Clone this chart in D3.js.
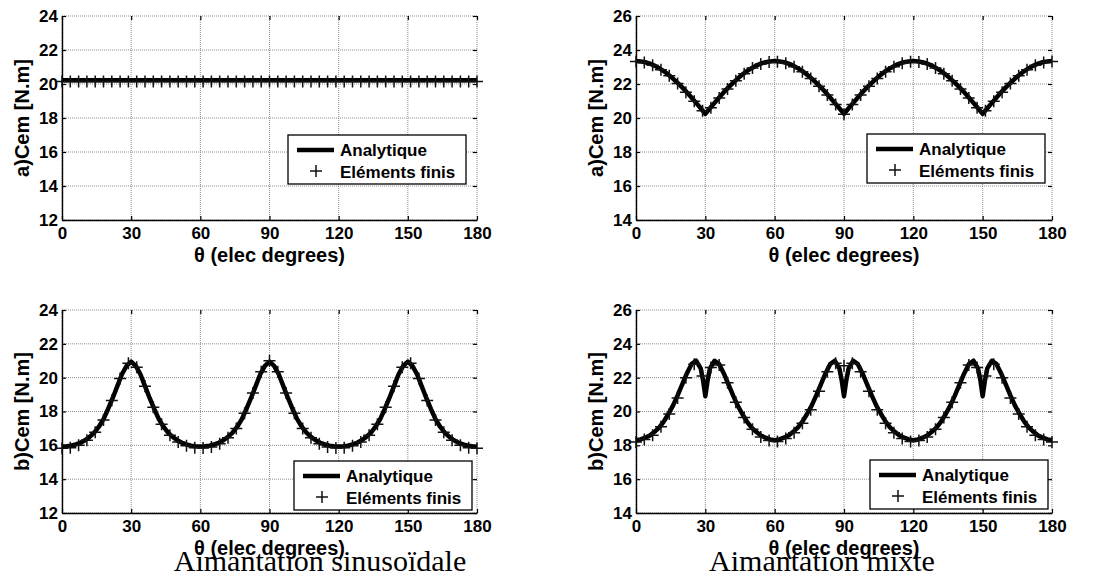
<!DOCTYPE html>
<html><head><meta charset="utf-8">
<script src="https://cdn.jsdelivr.net/npm/d3@7/dist/d3.min.js"></script>
<style>body{margin:0;background:#fff}svg{display:block}</style></head>
<body><svg id="c" width="1097" height="575"></svg>
<script>
// ---------- DATA ----------
const xTicks = [0, 30, 60, 90, 120, 150, 180];
const yTicksSinus = [12, 14, 16, 18, 20, 22, 24];
const yTicksMixte = [14, 16, 18, 20, 22, 24, 26];
const legendLabels = ["Analytique", "Eléments finis"];
const xTitle = "θ (elec degrees)";
const yTitles = ["a)Cem [N.m]", "a)Cem [N.m]", "b)Cem [N.m]", "b)Cem [N.m]"];
const captions = ["Aimantation sinusoïdale", "Aimantation mixte"];

// analytic theta grid (2 degree step)
const thetaA = [0,2,4,6,8,10,12,14,16,18,20,22,24,26,28,30,32,34,36,38,40,42,44,46,48,50,52,54,56,58,60,62,64,66,68,70,72,74,76,78,80,82,84,86,88,90,92,94,96,98,100,102,104,106,108,110,112,114,116,118,120,122,124,126,128,130,132,134,136,138,140,142,144,146,148,150,152,154,156,158,160,162,164,166,168,170,172,174,176,178,180];
// analytic theta grid for the mixte b) curve (denser at the notches)
const thetaBR = [0,2,4,6,8,10,12,14,16,18,20,22,24,26,28,29,30,31,32,34,36,38,40,42,44,46,48,50,52,54,56,58,60,62,64,66,68,70,72,74,76,78,80,82,84,86,88,89,90,91,92,94,96,98,100,102,104,106,108,110,112,114,116,118,120,122,124,126,128,130,132,134,136,138,140,142,144,146,148,149,150,151,152,154,156,158,160,162,164,166,168,170,172,174,176,178,180];
// finite element sample angles
const thetaFE = [0,3.6,7.2,10.8,14.4,18,21.6,25.2,28.8,32.4,36,39.6,43.2,46.8,50.4,54,57.6,61.2,64.8,68.4,72,75.6,79.2,82.8,86.4,90,93.6,97.2,100.8,104.4,108,111.6,115.2,118.8,122.4,126,129.6,133.2,136.8,140.4,144,147.6,151.2,154.8,158.4,162,165.6,169.2,172.8,176.4,180];

// a) sinusoidal
const thetaTL = [0, 180];
const anaTL = [20.22, 20.22];
const feTL = [20.15,20.15,20.15,20.15,20.15,20.15,20.15,20.15,20.15,20.15,20.15,20.15,20.15,20.15,20.15,20.15,20.15,20.15,20.15,20.15,20.15,20.15,20.15,20.15,20.15,20.15,20.15,20.15,20.15,20.15,20.15,20.15,20.15,20.15,20.15,20.15,20.15,20.15,20.15,20.15,20.15,20.15,20.15,20.15,20.15,20.15,20.15,20.15,20.15,20.15,20.15];

// a) mixte
const anaTR = [23.35,23.33,23.28,23.20,23.08,22.93,22.76,22.55,22.32,22.07,21.80,21.51,21.21,20.89,20.57,20.25,20.57,20.89,21.21,21.51,21.80,22.07,22.32,22.55,22.76,22.93,23.08,23.20,23.28,23.33,
23.35,23.33,23.28,23.20,23.08,22.93,22.76,22.55,22.32,22.07,21.80,21.51,21.21,20.89,20.57,20.25,20.57,20.89,21.21,21.51,21.80,22.07,22.32,22.55,22.76,22.93,23.08,23.20,23.28,23.33,
23.35,23.33,23.28,23.20,23.08,22.93,22.76,22.55,22.32,22.07,21.80,21.51,21.21,20.89,20.57,20.25,20.57,20.89,21.21,21.51,21.80,22.07,22.32,22.55,22.76,22.93,23.08,23.20,23.28,23.33,23.35];
const feTR = [23.32,23.27,23.10,22.84,22.48,22.03,21.52,20.98,20.42,20.60,21.17,21.70,22.19,22.60,22.94,23.17,23.30,23.31,23.22,23.02,22.72,22.33,21.87,21.35,20.80,20.22,
20.80,21.35,21.87,22.33,22.72,23.02,23.22,23.31,23.30,23.17,22.94,22.60,22.19,21.70,21.17,20.60,20.42,20.98,21.52,22.03,22.48,22.84,23.10,23.27,23.32];

// b) sinusoidal
const anaBL = [15.93,15.95,15.98,16.05,16.15,16.30,16.50,16.75,17.10,17.55,18.15,18.80,19.50,20.20,20.70,20.95,20.70,20.20,19.50,18.80,18.15,17.55,17.10,16.75,16.50,16.30,16.15,16.05,15.98,15.95,
15.93,15.95,15.98,16.05,16.15,16.30,16.50,16.75,17.10,17.55,18.15,18.80,19.50,20.20,20.70,20.95,20.70,20.20,19.50,18.80,18.15,17.55,17.10,16.75,16.50,16.30,16.15,16.05,15.98,15.95,
15.93,15.95,15.98,16.05,16.15,16.30,16.50,16.75,17.10,17.55,18.15,18.80,19.50,20.20,20.70,20.95,20.70,20.20,19.50,18.80,18.15,17.55,17.10,16.75,16.50,16.30,16.15,16.05,15.98,15.95,15.93];
const feBL = [15.83,15.86,16.00,16.30,16.78,17.50,18.65,19.95,20.85,20.62,19.50,18.25,17.25,16.60,16.20,15.97,15.86,15.84,15.90,16.10,16.45,17.00,17.90,19.10,20.35,21.00,
20.35,19.10,17.90,17.00,16.45,16.10,15.90,15.84,15.86,15.97,16.20,16.60,17.25,18.25,19.50,20.62,20.85,19.95,18.65,17.50,16.78,16.30,16.00,15.86,15.83];

// b) mixte
const anaBR = [18.30,18.35,18.45,18.58,18.80,19.05,19.40,19.85,20.35,20.95,21.60,22.25,22.80,23.00,22.55,21.85,20.90,21.85,22.55,23.00,22.80,22.25,21.60,20.95,20.35,19.85,19.40,19.05,18.80,18.58,18.45,18.35,
18.30,18.35,18.45,18.58,18.80,19.05,19.40,19.85,20.35,20.95,21.60,22.25,22.80,23.00,22.55,21.85,20.90,21.85,22.55,23.00,22.80,22.25,21.60,20.95,20.35,19.85,19.40,19.05,18.80,18.58,18.45,18.35,
18.30,18.35,18.45,18.58,18.80,19.05,19.40,19.85,20.35,20.95,21.60,22.25,22.80,23.00,22.55,21.85,20.90,21.85,22.55,23.00,22.80,22.25,21.60,20.95,20.35,19.85,19.40,19.05,18.80,18.58,18.45,18.35,18.30];
const feBR = [18.20,18.35,18.60,19.10,19.85,20.80,22.00,22.80,22.10,22.60,22.75,21.70,20.55,19.65,18.95,18.50,18.28,18.22,18.40,18.75,19.30,20.10,21.20,22.35,22.85,22.70,
22.85,22.35,21.20,20.10,19.30,18.75,18.40,18.22,18.28,18.50,18.95,19.65,20.55,21.70,22.75,22.60,22.10,22.80,22.00,20.80,19.85,19.10,18.60,18.35,18.20];

// ---------- LAYOUT ----------
const panels = [
  {x0: 62, x1: 477, y0: 16, y1: 220, yd: [12, 24], yt: yTicksSinus, ta: thetaTL, ana: anaTL, fe: feTL, yl: yTitles[0], lg: [288, 135]},
  {x0: 636, x1: 1052, y0: 16, y1: 220, yd: [14, 26], yt: yTicksMixte, ta: thetaA, ana: anaTR, fe: feTR, yl: yTitles[1], lg: [867, 134]},
  {x0: 62, x1: 477, y0: 310, y1: 513, yd: [12, 24], yt: yTicksSinus, ta: thetaA, ana: anaBL, fe: feBL, yl: yTitles[2], lg: [294, 461]},
  {x0: 636, x1: 1052, y0: 310, y1: 513, yd: [14, 26], yt: yTicksMixte, ta: thetaBR, ana: anaBR, fe: feBR, yl: yTitles[3], lg: [870, 460]}
];
const FONT = "'Liberation Sans', Arial, sans-serif";
const svg = d3.select('#c');

function cross(sel, cx, cy, s) {
  sel.append('path').attr('d', `M${cx - s},${cy}H${cx + s}M${cx},${cy - s}V${cy + s}`)
    .attr('stroke', '#111').attr('stroke-width', 1.5).attr('fill', 'none');
}

panels.forEach(p => {
  const x = d3.scaleLinear().domain([0, 180]).range([p.x0, p.x1]);
  const y = d3.scaleLinear().domain(p.yd).range([p.y1, p.y0]);
  const g = svg.append('g');

  // grid
  g.selectAll('.gx').data(xTicks).join('line')
    .attr('x1', d => x(d)).attr('x2', d => x(d)).attr('y1', p.y0).attr('y2', p.y1)
    .attr('stroke', '#8c8c8c').attr('stroke-width', 1).attr('stroke-dasharray', '1,1');
  g.selectAll('.gy').data(p.yt).join('line')
    .attr('y1', d => y(d)).attr('y2', d => y(d)).attr('x1', p.x0).attr('x2', p.x1)
    .attr('stroke', '#8c8c8c').attr('stroke-width', 1).attr('stroke-dasharray', '1,1');

  // axes
  const ax = g.append('g').attr('transform', `translate(0,${p.y1})`)
    .call(d3.axisBottom(x).tickValues(xTicks).tickSize(-4).tickSizeOuter(0).tickPadding(7));
  const ay = g.append('g').attr('transform', `translate(${p.x0},0)`)
    .call(d3.axisLeft(y).tickValues(p.yt).tickSize(-4).tickSizeOuter(0).tickPadding(4));
  const at = g.append('g').attr('transform', `translate(0,${p.y0})`)
    .call(d3.axisTop(x).tickValues(xTicks).tickSize(-4).tickSizeOuter(0).tickFormat(''));
  const ar = g.append('g').attr('transform', `translate(${p.x1},0)`)
    .call(d3.axisRight(y).tickValues(p.yt).tickSize(-4).tickSizeOuter(0).tickFormat(''));
  [at, ar].forEach(a => a.select('.domain').remove());
  [ax, ay, at, ar].forEach(a => {
    a.selectAll('.domain').attr('stroke', '#000').attr('stroke-width', 1.4);
    a.selectAll('.tick line').attr('stroke', '#000').attr('stroke-width', 1.2);
    a.selectAll('text').attr('font-family', FONT).attr('font-weight', 'bold')
      .attr('font-size', 17).attr('fill', '#000');
  });

  // analytic line
  const pts = p.ta.map((t, i) => [t, p.ana[i]]);
  g.append('path').datum(pts)
    .attr('d', d3.line().x(d => x(d[0])).y(d => y(d[1])))
    .attr('fill', 'none').attr('stroke', '#000').attr('stroke-width', 4.5)
    .attr('stroke-linejoin', 'round');

  // FE markers
  const mk = g.append('g');
  thetaFE.forEach((t, i) => cross(mk, x(t), y(p.fe[i]), 6));

  // axis titles
  g.append('text').attr('x', (p.x0 + p.x1) / 2).attr('y', p.y1 + 42)
    .attr('text-anchor', 'middle').attr('font-family', FONT).attr('font-weight', 'bold')
    .attr('font-size', 20).text(xTitle);
  g.append('text').attr('transform', `translate(${p.x0 - 40},${(p.y0 + p.y1) / 2}) rotate(-90)`)
    .attr('text-anchor', 'middle').attr('dy', '0.35em').attr('font-family', FONT).attr('font-weight', 'bold')
    .attr('font-size', 20).text(p.yl);

  // legend
  const [lx, ly] = p.lg;
  const lgG = g.append('g');
  lgG.append('rect').attr('x', lx).attr('y', ly).attr('width', 178).attr('height', 49)
    .attr('fill', '#fff').attr('stroke', '#000').attr('stroke-width', 1.3);
  lgG.append('line').attr('x1', lx + 9).attr('x2', lx + 46).attr('y1', ly + 15).attr('y2', ly + 15)
    .attr('stroke', '#000').attr('stroke-width', 4.5);
  cross(lgG, lx + 28, ly + 36, 6);
  lgG.selectAll('.lt').data(legendLabels).join('text')
    .attr('x', lx + 52).attr('y', (d, i) => ly + 21 + i * 22)
    .attr('font-family', FONT).attr('font-weight', 'bold').attr('font-size', 17).text(d => d);
});

// captions
svg.selectAll('.cap').data(captions).join('text')
  .attr('x', (d, i) => i === 0 ? 320 : 822).attr('y', 571)
  .attr('text-anchor', 'middle').attr('font-family', "'Liberation Serif', 'Times New Roman', serif")
  .attr('font-size', 30).attr('fill', '#000').text(d => d);
</script></body></html>
